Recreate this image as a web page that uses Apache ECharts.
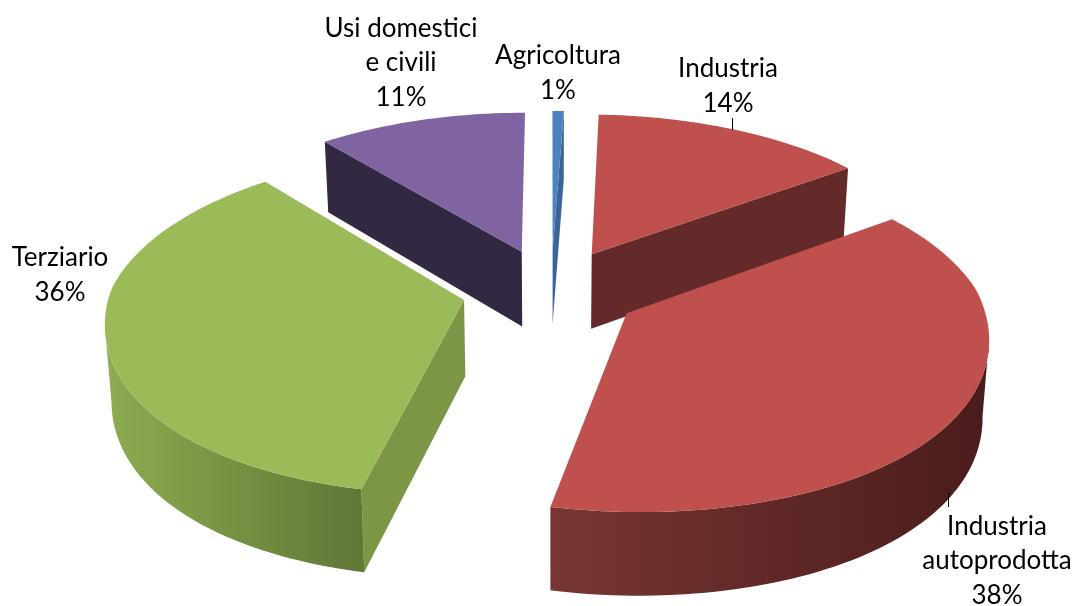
<!DOCTYPE html>
<html>
<head>
<meta charset="utf-8">
<title>Consumi per settore</title>
<script src="https://cdn.jsdelivr.net/npm/echarts@6/dist/echarts.min.js"></script>
<style>
  html, body { margin: 0; padding: 0; background: #ffffff; }
  #chart { width: 1078px; height: 606px; }
</style>
</head>
<body>
<div id="chart"></div>
<script>
  const categories = ['Agricoltura', 'Industria', 'Industria\nautoprodotta', 'Terziario', 'Usi domestici\ne civili'];
  // printed labels are rounded, slice widths say a bit more
  const shares = [0.6, 14.4, 38.4, 35.6, 11];

  const topColors = ['#4f81bd', '#c0504d', '#c0504d', '#9bbb59', '#8064a2'];
  const faceColors = ['#3a659a', '#632a29', '#632a29', '#7d9646', '#332842'];
  const wallColors = [
    ['#3a659a', '#3a659a'],
    ['#632a29', '#632a29'],
    ['#773634', '#4a1c1b'],
    ['#8eac51', '#5f7636'],
    ['#332842', '#332842'],
  ];
  // label centres + leader lines
  const labelAt = [[558, 73], [728, 86], [997, 561], [60, 275], [401, 63]];
  const leaders = [null, [732.5, 118, 732.5, 130], [948.5, 492, 948.5, 507], null, null];

  // pie geometry (fake 3d: ground plane seen in perspective)
  const cx = 551;
  const cy = 290;
  const radius = 354;
  const tilt = 0.47;
  const perspY = 0.13;
  const perspZ = 0.08;
  const depth = 76;
  const explode = 89;
  const lowPull = 0.985;

  const total = shares.reduce((a, b) => a + b, 0);

  // horizontal scale is not quite a single perspective, front and back fitted apart
  const scaleX = (u) => (u < 0 ? 1 - 0.09 * u + 0.075 * u * u : 1 / (1 + 0.13 * u));

  const project = (angle, r, z, ox, oy) => {
    const gx = ox + r * Math.sin(angle);
    const gy = oy + r * Math.cos(angle);
    const u = gy / radius;
    const pull = z > 0 ? lowPull : 1;
    return [
      cx + gx * scaleX(u) * pull,
      cy - (gy * tilt) / (1 + perspY * u) + z / (1 + perspZ * u),
    ];
  };

  const renderSlice = (params, api) => {
    const i = params.dataIndex;
    let before = 0;
    for (let k = 0; k < i; k++) before += shares[k];
    const a1 = (before / total) * Math.PI * 2;
    const a2 = ((before + api.value(0)) / total) * Math.PI * 2;
    const mid = (a1 + a2) / 2;
    const ox = explode * Math.sin(mid);
    const oy = explode * Math.cos(mid);

    const topArc = [];
    const lowArc = [];
    const steps = Math.max(4, Math.round((a2 - a1) * 40));
    let wallFrom = 0;
    let wallTo = 0;
    for (let n = 0; n <= steps; n++) {
      const a = a1 + ((a2 - a1) * n) / steps;
      topArc.push(project(a, radius, 0, ox, oy));
      lowArc.push(project(a, radius, depth, ox, oy));
      // outer wall only shows between the right and left extremes of the rim
      if (topArc[n][0] > topArc[wallFrom][0]) wallFrom = n;
      if (topArc[n][0] < topArc[wallTo][0]) wallTo = n;
    }
    const apex = project(0, 0, 0, ox, oy);
    const apexLow = project(0, 0, depth, ox, oy);

    const children = [];
    // cut faces, only the ones turned to the viewer
    if (Math.sin(a2) > 1e-6) {
      children.push({
        type: 'polygon',
        shape: { points: [apex, topArc[steps], lowArc[steps], apexLow] },
        style: { fill: faceColors[i] },
      });
    }
    if (Math.sin(a1) < -1e-6) {
      children.push({
        type: 'polygon',
        shape: { points: [apex, topArc[0], lowArc[0], apexLow] },
        style: { fill: faceColors[i] },
      });
    }
    if (wallTo > wallFrom) {
      const wallTop = topArc.slice(wallFrom, wallTo + 1);
      const wallLow = lowArc.slice(wallFrom, wallTo + 1).reverse();
      children.push({
        type: 'polygon',
        shape: { points: wallTop.concat(wallLow) },
        style: {
          fill: new echarts.graphic.LinearGradient(0, 0, 1, 0, [
            { offset: 0, color: wallColors[i][0] },
            { offset: 1, color: wallColors[i][1] },
          ]),
        },
      });
    }
    children.push(
      {
        type: 'polygon',
        shape: { points: [apex].concat(topArc) },
        style: { fill: topColors[i] },
      },
      {
        type: 'text',
        x: labelAt[i][0],
        y: labelAt[i][1],
        z2: 50,
        style: {
          text: categories[i] + '\n' + Math.round(api.value(0)) + '%',
          x: 0,
          y: 0,
          fill: '#000000',
          font: '26px Lato',
          lineHeight: 34.5,
          align: 'center',
          verticalAlign: 'middle',
        },
      }
    );
    if (leaders[i]) {
      const l = leaders[i];
      children.push({
        type: 'line',
        shape: { x1: l[0], y1: l[1], x2: l[2], y2: l[3] },
        style: { stroke: '#000000', lineWidth: 1 },
      });
    }
    return { type: 'group', children: children };
  };

  const myChart = echarts.init(document.getElementById('chart'));
  myChart.setOption({
    animation: false,
    backgroundColor: '#ffffff',
    series: [
      {
        type: 'custom',
        coordinateSystem: 'none',
        renderItem: renderSlice,
        data: shares.map((v, i) => ({ name: categories[i], value: [v] })),
      },
    ],
  });
</script>
</body>
</html>
